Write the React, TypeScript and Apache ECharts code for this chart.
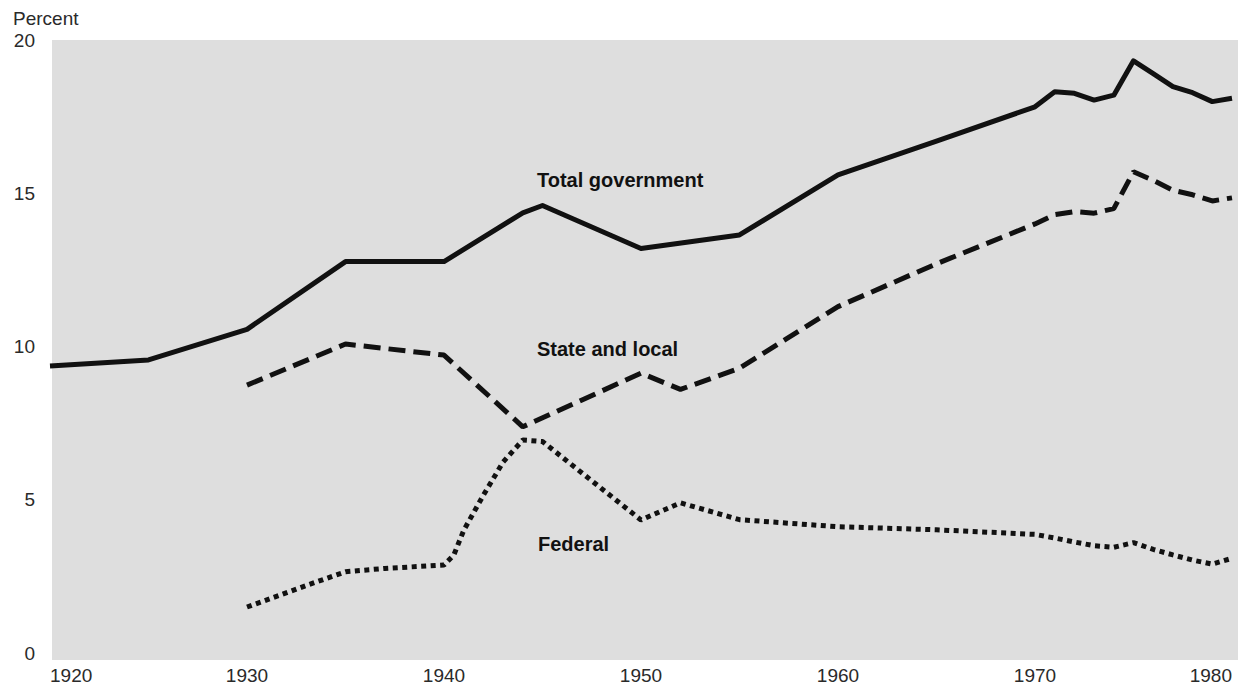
import React, { useEffect, useRef } from "react";
import * as echarts from "echarts";

const totalYears = [1920, 1925, 1930, 1935, 1940, 1944, 1945, 1950, 1955, 1960, 1965, 1970, 1971, 1972, 1973, 1974, 1975, 1976, 1977, 1978, 1979, 1980];
const totalValues = [9.36, 9.56, 10.56, 12.77, 12.77, 14.36, 14.6, 13.2, 13.64, 15.6, 16.7, 17.82, 18.31, 18.26, 18.04, 18.2, 19.32, 18.9, 18.48, 18.28, 17.99, 18.1];

const stateYears = [1930, 1935, 1940, 1944, 1950, 1952, 1955, 1960, 1965, 1970, 1971, 1972, 1973, 1974, 1975, 1976, 1977, 1978, 1979, 1980];
const stateValues = [8.74, 10.08, 9.72, 7.38, 9.13, 8.6, 9.29, 11.3, 12.7, 14.0, 14.3, 14.4, 14.35, 14.5, 15.7, 15.42, 15.1, 14.95, 14.75, 14.85];

const fedYears = [1930, 1933, 1935, 1937, 1940, 1940.5, 1941, 1942, 1943, 1944, 1945, 1950, 1952, 1955, 1960, 1965, 1970, 1971, 1972, 1973, 1974, 1975, 1976, 1977, 1978, 1979, 1980];
const fedValues = [1.5, 2.2, 2.65, 2.76, 2.87, 3.2, 4.0, 5.15, 6.23, 6.95, 6.9, 4.34, 4.9, 4.35, 4.12, 4.02, 3.87, 3.75, 3.62, 3.5, 3.45, 3.6, 3.38, 3.2, 3.03, 2.9, 3.09];

const seriesNames = ["Total government", "State and local", "Federal"];
const yAxisTitle = "Percent";

const pairs = (xs: number[], ys: number[]) => xs.map((x, i) => [x, ys[i]]);

export default function App() {
  const ref = useRef<HTMLDivElement>(null);
  useEffect(() => {
    if (!ref.current) return;
    const chart = echarts.init(ref.current, undefined, { renderer: "svg" });
    const font = "'Liberation Sans', Arial, Helvetica, sans-serif";
    const lineColor = "#111";
    chart.setOption({
      animation: false,
      backgroundColor: "#ffffff",
      grid: { left: 50, right: 6, top: 40, bottom: 34 },
      xAxis: {
        type: "value",
        min: 1920,
        max: 1980,
        interval: 10,
        axisLine: { show: false },
        axisTick: { show: false },
        splitLine: { show: false },
        axisLabel: {
          color: "#2a2a2a",
          fontFamily: font,
          fontSize: 19,
          margin: 13,
          alignMinLabel: "left",
          alignMaxLabel: "right",
          formatter: (v: number) => String(v),
        },
      },
      yAxis: {
        type: "value",
        min: 0,
        max: 20,
        interval: 5,
        axisLine: { show: false },
        axisTick: { show: false },
        splitLine: { show: false },
        axisLabel: { color: "#2a2a2a", fontFamily: font, fontSize: 19, margin: 15 },
      },
      graphic: [
        {
          type: "rect",
          z: 0,
          silent: true,
          shape: { x: 52, y: 40, width: 1186, height: 620 },
          style: { fill: "#dedede" },
        },
        {
          type: "text",
          left: 13,
          top: 9,
          style: { text: yAxisTitle, fill: "#2a2a2a", font: `19px ${font}` },
        },
        {
          type: "text",
          left: 537,
          top: 170,
          z: 10,
          style: { text: seriesNames[0], fill: "#111", font: `bold 20px ${font}` },
        },
        {
          type: "text",
          left: 537,
          top: 339,
          z: 10,
          style: { text: seriesNames[1], fill: "#111", font: `bold 20px ${font}` },
        },
        {
          type: "text",
          left: 538,
          top: 534,
          z: 10,
          style: { text: seriesNames[2], fill: "#111", font: `bold 20px ${font}` },
        },
      ],
      series: [
        {
          name: seriesNames[0],
          type: "line",
          data: pairs(totalYears, totalValues),
          showSymbol: false,
          symbol: "none",
          z: 5,
          lineStyle: { color: lineColor, width: 5, type: "solid", join: "round" },
        },
        {
          name: seriesNames[1],
          type: "line",
          data: pairs(stateYears, stateValues),
          showSymbol: false,
          symbol: "none",
          z: 5,
          lineStyle: { color: lineColor, width: 5, type: [17, 8], cap: "butt" },
        },
        {
          name: seriesNames[2],
          type: "line",
          data: pairs(fedYears, fedValues),
          showSymbol: false,
          symbol: "none",
          z: 5,
          lineStyle: { color: lineColor, width: 5, type: [5, 4.5], cap: "butt" },
        },
      ],
    });
    return () => chart.dispose();
  }, []);
  return (
    <div
      ref={ref}
      style={{ position: "fixed", left: 0, top: 0, width: 1238, height: 687 }}
    />
  );
}
